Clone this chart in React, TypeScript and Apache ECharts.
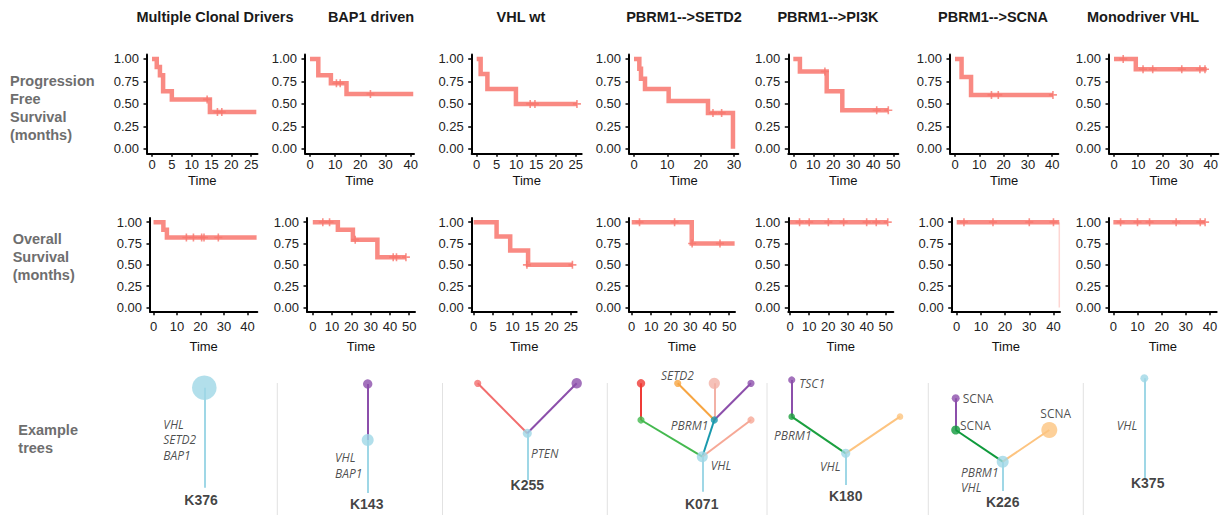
import React, { useEffect, useRef } from "react";
import * as echarts from "echarts";

// ---------------- DATA ----------------
const GROUPS = [
  "Multiple Clonal Drivers",
  "BAP1 driven",
  "VHL wt",
  "PBRM1-->SETD2",
  "PBRM1-->PI3K",
  "PBRM1-->SCNA",
  "Monodriver VHL",
];

const ROW_LABELS = [
  "Progression\nFree\nSurvival\n(months)",
  "Overall\nSurvival\n(months)",
  "Example\ntrees",
];

// Kaplan-Meier step points [time, survival]
const PFS_CURVES: number[][][] = [
  [[0, 1], [1.2, 0.91], [2.0, 0.82], [2.8, 0.64], [5.0, 0.55], [14.6, 0.41], [26.3, 0.41]],
  [[0, 1], [3.3, 0.82], [8.3, 0.73], [14.5, 0.61], [41, 0.61]],
  [[0, 1], [1.0, 0.833], [2.7, 0.667], [9.9, 0.5], [25.3, 0.5]],
  [[0, 1], [1.6, 0.89], [2.1, 0.78], [3.3, 0.667], [10.4, 0.533], [22.2, 0.4], [29.7, 0]],
  [[0, 1], [3.3, 0.86], [16.7, 0.64], [24.5, 0.43], [47.5, 0.43]],
  [[0, 1], [2.7, 0.8], [6.6, 0.6], [40.3, 0.6]],
  [[0, 1], [9.0, 0.885], [38.3, 0.885]],
];
const PFS_CENSOR: number[][][] = [
  [[13.9, 0.55], [16.5, 0.41], [17.6, 0.41]],
  [[10.5, 0.73], [12, 0.73], [24, 0.61]],
  [[13.5, 0.5], [14.7, 0.5], [25.3, 0.5]],
  [[23.7, 0.4], [26.3, 0.4]],
  [[15.8, 0.86], [41.7, 0.43], [47.5, 0.43]],
  [[15, 0.6], [17.8, 0.6], [40.3, 0.6]],
  [[3.8, 1], [12, 0.885], [16, 0.885], [28, 0.885], [35.5, 0.885], [37.6, 0.885]],
];
const OS_CURVES: number[][][] = [
  [[0, 1], [4.2, 0.91], [5.7, 0.82], [43.9, 0.82]],
  [[0, 1], [13, 0.91], [20.8, 0.795], [33.5, 0.59], [48.3, 0.59]],
  [[0, 1], [5.9, 0.833], [9.4, 0.667], [14, 0.5], [25.5, 0.5]],
  [[0, 1], [30.8, 0.75], [52.8, 0.75]],
  [[0, 1], [51, 1]],
  [[0, 1], [42.4, 1]],
  [[0, 1], [38, 1]],
];
const OS_CENSOR: number[][][] = [
  [[14, 0.82], [17, 0.82], [20.5, 0.82], [21.5, 0.82], [27.6, 0.82]],
  [[5.2, 1], [8.7, 1], [22, 0.795], [41.7, 0.59], [43.4, 0.59], [48.3, 0.59]],
  [[13.7, 0.5], [25.4, 0.5]],
  [[4, 1], [22, 1], [31, 0.75], [45.3, 0.75]],
  [[5, 1], [10, 1], [20, 1], [28, 1], [40, 1], [45, 1], [51, 1]],
  [[3, 1], [15, 1], [30, 1], [40, 1]],
  [[3, 1], [10, 1], [15, 1], [26, 1], [36, 1], [38, 1]],
];
// faint terminal drop (only PBRM1-->SCNA OS)
const OS_DROPS: number[][][] = [[], [], [], [], [], [[42.4, 1], [42.4, 0]], []];

const PFS_TICKS = [
  [0, 5, 10, 15, 20, 25],
  [0, 10, 20, 30, 40],
  [0, 5, 10, 15, 20, 25],
  [0, 10, 20, 30],
  [0, 10, 20, 30, 40, 50],
  [0, 10, 20, 30, 40],
  [0, 10, 20, 30, 40],
];
const OS_TICKS = [
  [0, 10, 20, 30, 40],
  [0, 10, 20, 30, 40, 50],
  [0, 5, 10, 15, 20, 25],
  [0, 10, 20, 30, 40, 50],
  [0, 10, 20, 30, 40, 50],
  [0, 10, 20, 30, 40],
  [0, 10, 20, 30, 40],
];
const Y_TICKS = [0, 0.25, 0.5, 0.75, 1];
const PFS_XRANGE = [[-1.26, 26.6], [-1.98, 41.3], [-1.26, 26.5], [-1.5, 31.3], [-2.5, 52.5], [-2.06, 42.5], [-2.07, 43.1]];
const OS_XRANGE = [[-1.5, 44.2], [-3, 53], [-0.5, 26.5], [-1.4, 53], [-0.9, 53.9], [-2.07, 42.7], [-1.8, 42.8]];

// Trees: sample ids
const TREE_IDS = ["K376", "K143", "K255", "K071", "K180", "K226", "K375"];

// ---------------- LAYOUT / STYLE ----------------
const W = 1228;
const H = 515;
const FONT = '"Liberation Sans", Arial, Helvetica, sans-serif';
const TREE_FONT = '"Open Sans", "Noto Sans", sans-serif';
const KM_COLOR = "#F8766D";
const PLUS = "path://M3.2,0H4.8V3.2H8V4.8H4.8V8H3.2V4.8H0V3.2H3.2Z";

const PFS_LEFT = [147, 305, 471.7, 629, 788.3, 950, 1109];
const PFS_RIGHT = [257.5, 414, 581.7, 738.3, 898.3, 1058.3, 1218.3];
const OS_LEFT = [150, 307, 471.7, 629, 788.3, 951.7, 1109];
const OS_RIGHT = [257.3, 415, 576.7, 735, 893.3, 1060, 1216.7];
const PFS_TOP = 54.5;
const PFS_BOTTOM = 153.3;
const OS_TOP = 217.9;
const OS_BOTTOM = 311.8;
const TITLE_X = [215, 371, 521, 684, 828, 993, 1143];
const TITLE_Y = 16.7;
const ROW_LABEL_POS = [[10, 108], [12.7, 256.7], [18.3, 438.7]];
const SEPARATORS_X = [277.3, 442.5, 607.3, 767, 928.3, 1083.3];

const PAL: Record<string, string> = {
  lb: "#9fd7e6",
  purple: "#8c4fab",
  red: "#ef3b36",
  k255red: "#f26d6d",
  green: "#44b94f",
  green2: "#1ba03f",
  green3: "#0f9a3c",
  orange: "#f7a541",
  pink: "#f3b1a6",
  teal: "#1999ad",
  salmon: "#f6a896",
  lorange: "#fdc480",
};

// tree node layout: [x, y, radius, colorKey] (radius 0 = stem base)
const TREE_NODES: [number, number, number, string][][] = [
  [[204.3, 487.7, 0, "lb"], [204.3, 387.7, 12.3, "lb"]],
  [[367.7, 493, 0, "lb"], [367.7, 440, 6, "lb"], [367.7, 384, 4.7, "purple"]],
  [[527.3, 480, 0, "lb"], [527.3, 433.3, 4.5, "lb"], [477.7, 383.3, 3.6, "k255red"], [576.7, 383.3, 5.2, "purple"]],
  [
    [702.3, 491.7, 0, "lb"], [702.3, 456.7, 5.5, "lb"], [641, 420, 3.6, "green"], [641, 383.3, 4.2, "red"],
    [714.3, 420, 3.6, "teal"], [677.7, 383.3, 3.6, "orange"], [714.3, 383.3, 5.6, "pink"],
    [751, 383.3, 3.6, "purple"], [751, 420, 3.6, "salmon"],
  ],
  [[845.7, 485, 0, "lb"], [845.7, 453.3, 4.6, "lb"], [791.7, 416.7, 3.3, "green2"], [791.7, 380, 3.6, "purple"], [900, 416.7, 3.3, "lorange"]],
  [[1002.7, 491, 0, "lb"], [1002.7, 461.7, 6, "lb"], [955.7, 430, 4.5, "green3"], [955.7, 398.3, 4, "purple"], [1049.3, 430, 8, "lorange"]],
  [[1144.3, 478.3, 0, "lb"], [1144.3, 378.3, 4, "lb"]],
];
// edges: [fromIndex, toIndex] colored by child node
const TREE_EDGES: number[][][] = [
  [[0, 1]],
  [[0, 1], [1, 2]],
  [[0, 1], [1, 2], [1, 3]],
  [[0, 1], [1, 2], [2, 3], [1, 4], [4, 5], [4, 6], [4, 7], [1, 8]],
  [[0, 1], [1, 2], [2, 3], [1, 4]],
  [[0, 1], [1, 2], [2, 3], [1, 4]],
  [[0, 1]],
];
// tree labels: [text, x, y, align, kind] kind: i=italic gene, n=normal
const TREE_LABELS: [string, number, number, string, string][] = [
  ["VHL", 163.3, 424.3, "left", "i"], ["SETD2", 163.3, 439.7, "left", "i"], ["BAP1", 163.3, 455, "left", "i"],
  ["VHL", 335, 457.7, "left", "i"], ["BAP1", 335, 473.3, "left", "i"],
  ["PTEN", 531, 453.3, "left", "i"],
  ["SETD2", 661, 375, "left", "i"], ["PBRM1", 708.3, 425, "right", "i"], ["VHL", 710.7, 465, "left", "i"],
  ["TSC1", 799.3, 383, "left", "i"], ["PBRM1", 774, 435.7, "left", "i"], ["VHL", 820, 466.7, "left", "i"],
  ["SCNA", 962.7, 398.3, "left", "n"], ["SCNA", 960, 425, "left", "n"], ["SCNA", 1055.7, 413.3, "center", "n"],
  ["PBRM1", 961, 472.3, "left", "i"], ["VHL", 961, 487.7, "left", "i"],
  ["VHL", 1116.7, 425.7, "left", "i"],
];
const TREE_ID_POS = [[201, 500], [366.7, 504.3], [527.3, 485], [701.7, 504.3], [845.7, 496], [1002.7, 502.3], [1147.7, 483.3]];

function buildOption() {
  const grid: any[] = [];
  const xAxis: any[] = [];
  const yAxis: any[] = [];
  const series: any[] = [];

  const rows = [
    { curves: PFS_CURVES, censor: PFS_CENSOR, ticks: PFS_TICKS, ranges: PFS_XRANGE, lefts: PFS_LEFT, rights: PFS_RIGHT, top: PFS_TOP, bottom: PFS_BOTTOM, labelMargin: 5, nameGap: 21, drops: null as any },
    { curves: OS_CURVES, censor: OS_CENSOR, ticks: OS_TICKS, ranges: OS_XRANGE, lefts: OS_LEFT, rights: OS_RIGHT, top: OS_TOP, bottom: OS_BOTTOM, labelMargin: 8, nameGap: 28.5, drops: OS_DROPS },
  ];

  rows.forEach((row) => {
    for (let i = 0; i < GROUPS.length; i++) {
      const idx = grid.length;
      grid.push({
        left: row.lefts[i],
        top: row.top,
        width: row.rights[i] - row.lefts[i],
        height: row.bottom - row.top,
        containLabel: false,
      });
      xAxis.push({
        gridIndex: idx,
        type: "value",
        min: row.ranges[i][0],
        max: row.ranges[i][1],
        name: "Time",
        nameLocation: "middle",
        nameGap: row.nameGap,
        nameTextStyle: { color: "#111", fontSize: 13, fontFamily: FONT },
        axisLine: { show: true, onZero: false, lineStyle: { color: "#000", width: 2 } },
        axisTick: { show: true, length: 3.5, lineStyle: { color: "#000", width: 1.5 }, customValues: row.ticks[i] },
        axisLabel: { color: "#222", fontSize: 13, fontFamily: FONT, margin: row.labelMargin, customValues: row.ticks[i] },
        splitLine: { show: false },
      });
      yAxis.push({
        gridIndex: idx,
        type: "value",
        min: -0.05,
        max: 1.05,
        axisLine: { show: true, onZero: false, lineStyle: { color: "#000", width: 2 } },
        axisTick: { show: true, length: 3.5, lineStyle: { color: "#000", width: 1.5 }, customValues: Y_TICKS },
        axisLabel: {
          color: "#222",
          fontSize: 13,
          fontFamily: FONT,
          margin: 8,
          customValues: Y_TICKS,
          formatter: (v: number) => v.toFixed(2),
        },
        splitLine: { show: false },
      });
      series.push({
        type: "line",
        xAxisIndex: idx,
        yAxisIndex: idx,
        data: row.curves[i],
        step: "end",
        showSymbol: false,
        symbol: "none",
        silent: true,
        lineStyle: { color: KM_COLOR, width: 4.5, opacity: 0.85, cap: "butt", join: "miter" },
        z: 3,
      });
      series.push({
        type: "scatter",
        xAxisIndex: idx,
        yAxisIndex: idx,
        data: row.censor[i],
        symbol: PLUS,
        symbolSize: 8,
        silent: true,
        itemStyle: { color: KM_COLOR, opacity: 0.8 },
        z: 4,
      });
      if (row.drops && row.drops[i].length) {
        series.push({
          type: "line",
          xAxisIndex: idx,
          yAxisIndex: idx,
          data: row.drops[i],
          showSymbol: false,
          symbol: "none",
          silent: true,
          lineStyle: { color: KM_COLOR, width: 1.5, opacity: 0.3 },
          z: 2,
        });
      }
    }
  });

  // tree coordinate system (hidden axes, page units)
  const tIdx = grid.length;
  grid.push({ left: 0, top: 0, width: W, height: H, containLabel: false });
  xAxis.push({ gridIndex: tIdx, type: "value", min: 0, max: W, show: false });
  yAxis.push({ gridIndex: tIdx, type: "value", min: 0, max: H, inverse: true, show: false });

  const edgeData: any[] = [];
  const nodeData: any[] = [];
  TREE_NODES.forEach((nodes, t) => {
    TREE_EDGES[t].forEach(([a, b]) => {
      edgeData.push({
        coords: [[nodes[a][0], nodes[a][1]], [nodes[b][0], nodes[b][1]]],
        lineStyle: { color: PAL[nodes[b][3]], width: 2, opacity: 1 },
      });
    });
    nodes.forEach((n) => {
      if (n[2] > 0) {
        nodeData.push({ value: [n[0], n[1]], symbolSize: n[2] * 2, itemStyle: { color: PAL[n[3]] } });
      }
    });
  });
  series.push({
    type: "lines",
    coordinateSystem: "cartesian2d",
    xAxisIndex: tIdx,
    yAxisIndex: tIdx,
    polyline: false,
    silent: true,
    data: edgeData,
    lineStyle: { width: 2, opacity: 1, curveness: 0 },
    z: 2,
  });
  series.push({
    type: "scatter",
    xAxisIndex: tIdx,
    yAxisIndex: tIdx,
    symbol: "circle",
    silent: true,
    data: nodeData,
    z: 3,
  });

  const labelData: any[] = [];
  TREE_LABELS.forEach(([text, x, y, align, kind]) => {
    labelData.push({
      value: [x, y],
      label: {
        show: true,
        position: "inside",
        formatter: text,
        align,
        verticalAlign: "middle",
        color: "#1e1e1e",
        fontFamily: TREE_FONT,
        fontSize: 12,
        fontStyle: kind === "i" ? "italic" : "normal",
      },
    });
  });
  TREE_IDS.forEach((id, t) => {
    labelData.push({
      value: TREE_ID_POS[t],
      label: {
        show: true,
        position: "inside",
        formatter: id,
        align: "center",
        verticalAlign: "middle",
        color: "#111",
        fontFamily: FONT,
        fontSize: 14,
        fontWeight: "bold",
      },
    });
  });
  series.push({
    type: "scatter",
    xAxisIndex: tIdx,
    yAxisIndex: tIdx,
    symbolSize: 1,
    silent: true,
    itemStyle: { color: "rgba(0,0,0,0)" },
    data: labelData,
    z: 5,
  });

  const graphic: any[] = [];
  GROUPS.forEach((g, i) => {
    graphic.push({
      type: "text",
      x: TITLE_X[i],
      y: TITLE_Y,
      silent: true,
      style: {
        text: g,
        fill: "#1a1a1a",
        font: `bold 14.5px ${FONT}`,
        align: "center",
        verticalAlign: "middle",
        textAlign: "center",
        textVerticalAlign: "middle",
      },
    });
  });
  ROW_LABELS.forEach((t, i) => {
    graphic.push({
      type: "text",
      x: ROW_LABEL_POS[i][0],
      y: ROW_LABEL_POS[i][1],
      silent: true,
      style: {
        text: t,
        fill: "#6e6e6e",
        font: `bold 14.5px ${FONT}`,
        lineHeight: 18,
        align: "left",
        verticalAlign: "middle",
        textAlign: "left",
        textVerticalAlign: "middle",
      },
    });
  });
  SEPARATORS_X.forEach((x) => {
    graphic.push({
      type: "line",
      silent: true,
      shape: { x1: x, y1: 383, x2: x, y2: H },
      style: { stroke: "#e2e2e2", lineWidth: 1 },
    });
  });

  return {
    animation: false,
    backgroundColor: "#ffffff",
    grid,
    xAxis,
    yAxis,
    series,
    graphic,
  };
}

export default function App() {
  const ref = useRef<HTMLDivElement>(null);
  useEffect(() => {
    if (!ref.current) return;
    const chart = echarts.init(ref.current, undefined, { renderer: "svg" });
    chart.setOption(buildOption() as any);
    return () => chart.dispose();
  }, []);
  return (
    <div
      ref={ref}
      style={{ position: "absolute", left: 0, top: 0, width: W, height: H, background: "#fff" }}
    />
  );
}
